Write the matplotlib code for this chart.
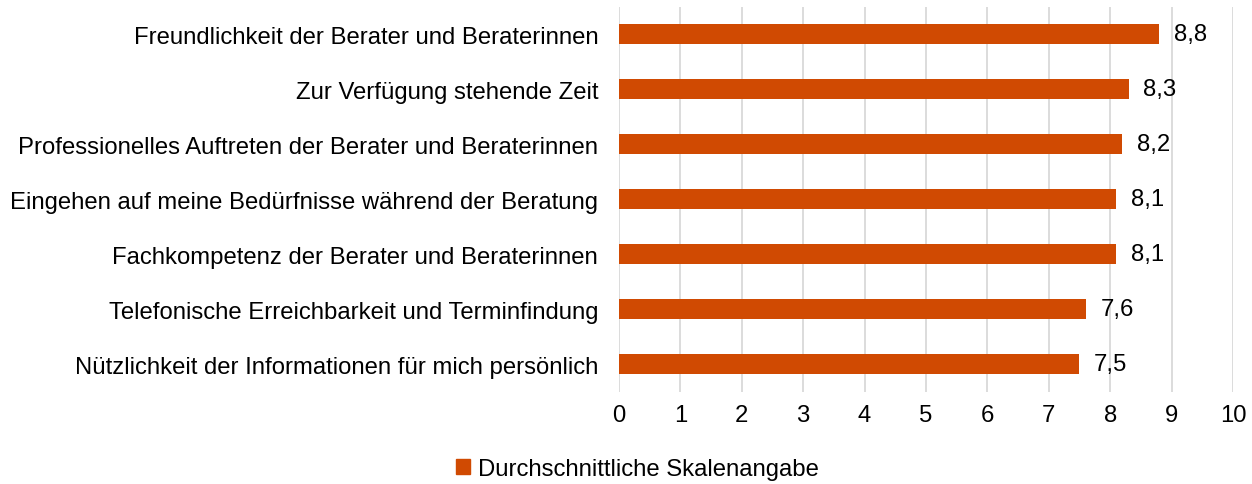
import matplotlib
matplotlib.use('Agg')
import matplotlib.pyplot as plt
from matplotlib.patches import Patch

plt.rcParams['font.family'] = ['Liberation Sans', 'DejaVu Sans']

# Daten
kategorien = [
    'Freundlichkeit der Berater und Beraterinnen',
    'Zur Verfügung stehende Zeit',
    'Professionelles Auftreten der Berater und Beraterinnen',
    'Eingehen auf meine Bedürfnisse während der Beratung',
    'Fachkompetenz der Berater und Beraterinnen',
    'Telefonische Erreichbarkeit und Terminfindung',
    'Nützlichkeit der Informationen für mich persönlich',
]
werte = [8.8, 8.3, 8.2, 8.1, 8.1, 7.6, 7.5]
serie = 'Durchschnittliche Skalenangabe'
farbe = '#D04A02'
fs = 17.2

fig = plt.figure(figsize=(12.52, 4.85), dpi=100)
ax = fig.add_axes([0.4944, 0.1907, 0.4904, 0.7938])

y = list(range(len(kategorien)))[::-1]
bars = ax.barh(y, werte, height=0.36, color=farbe, zorder=3)

for b, v in zip(bars, werte):
    ax.text(b.get_width() + 0.24, b.get_y() + b.get_height() / 2,
            f'{v:.1f}'.replace('.', ','), va='center', ha='left', fontsize=fs)

ax.set_xlim(0, 10)
ax.set_ylim(-0.5, len(kategorien) - 0.5)
ax.set_xticks(range(11))
ax.set_yticks(y)
ax.set_yticklabels(kategorien)
ax.tick_params(axis='both', length=0, labelsize=fs)
ax.tick_params(axis='y', pad=15)
ax.tick_params(axis='x', pad=9)
ax.grid(axis='x', color='#D9D9D9', lw=1.3, zorder=0)
for s in ax.spines.values():
    s.set_visible(False)

fig.legend(handles=[Patch(color=farbe, label=serie)], loc='center',
           bbox_to_anchor=(0.509, 0.031), frameon=False, fontsize=fs,
           handlelength=0.6, handleheight=0.6, handletextpad=0.3)

fig.savefig('out.png', dpi=100)
